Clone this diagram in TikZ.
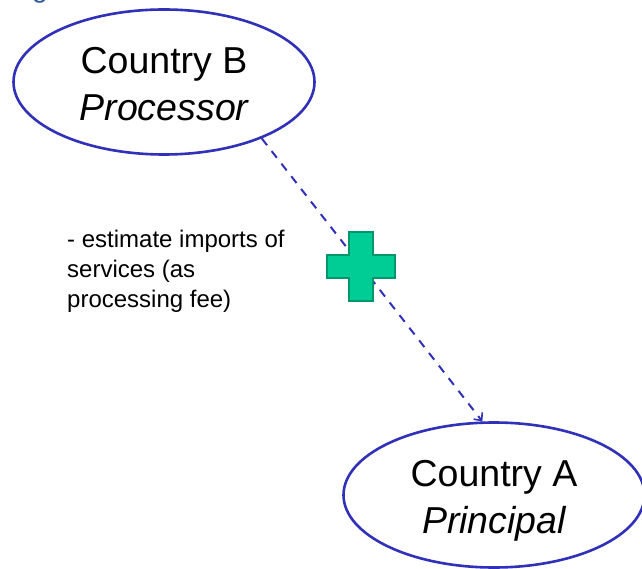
\documentclass[tikz,border=0pt]{standalone}
\usepackage{fontspec}
\setmainfont{Liberation Sans}
\usetikzlibrary{shapes.geometric,arrows.meta}

\definecolor{ovalblue}{RGB}{48,48,185}
\definecolor{crossgreen}{RGB}{0,204,150}
\definecolor{crossedge}{RGB}{0,150,108}
\definecolor{titleblue}{RGB}{50,90,150}

% suporte para alinhar as linhas dentro das elipses
\newcommand{\ovalstrut}{\rule[-8pt]{0pt}{46pt}}

\tikzset{
  country/.style={ellipse, draw=ovalblue, line width=2.6pt, inner sep=0pt,
    minimum width=301pt, minimum height=145pt, align=center,
    font=\fontsize{37.5}{45}\selectfont},
  flow/.style={ovalblue, line width=2pt, dash pattern=on 8.5pt off 7.5pt,
    -{Straight Barb[length=6pt,width=11pt,line width=1.6pt]}}
}

\begin{document}
\begin{tikzpicture}[x=1pt, y=-1pt]

  % Margens da figura
  \useasboundingbox (0,0) rectangle (642,569);

  % Resto do titulo cortado no topo
  \node[anchor=base west, inner sep=0pt, text=titleblue,
    font=\fontsize{28}{34}\selectfont] (title) at (32,-2) {g};

  % Paises
  \node[country] (B) at (164,82) {\ovalstrut Country B\\\ovalstrut\itshape Processor};
  \node[country] (A) at (494,495) {\ovalstrut Country A\\\ovalstrut\itshape Principal};

  % Fluxo de B para A
  \draw[flow] (B.-30) -- (A.99.5);

  % Texto explicativo
  \node[anchor=north west, inner sep=0pt, align=left,
    font=\fontsize{24}{30}\selectfont] (note) at (67,229.5)
    {- estimate imports of\\services (as\\processing fee)};

  % Sinal de mais sobre a seta
  \filldraw[fill=crossgreen, draw=crossedge, line width=1.8pt]
    (349,232) -- (373,232) -- (373,255) -- (395,255) -- (395,278)
    -- (373,278) -- (373,301) -- (349,301) -- (349,278) -- (327,278)
    -- (327,255) -- (349,255) -- cycle;

\end{tikzpicture}
\end{document}
